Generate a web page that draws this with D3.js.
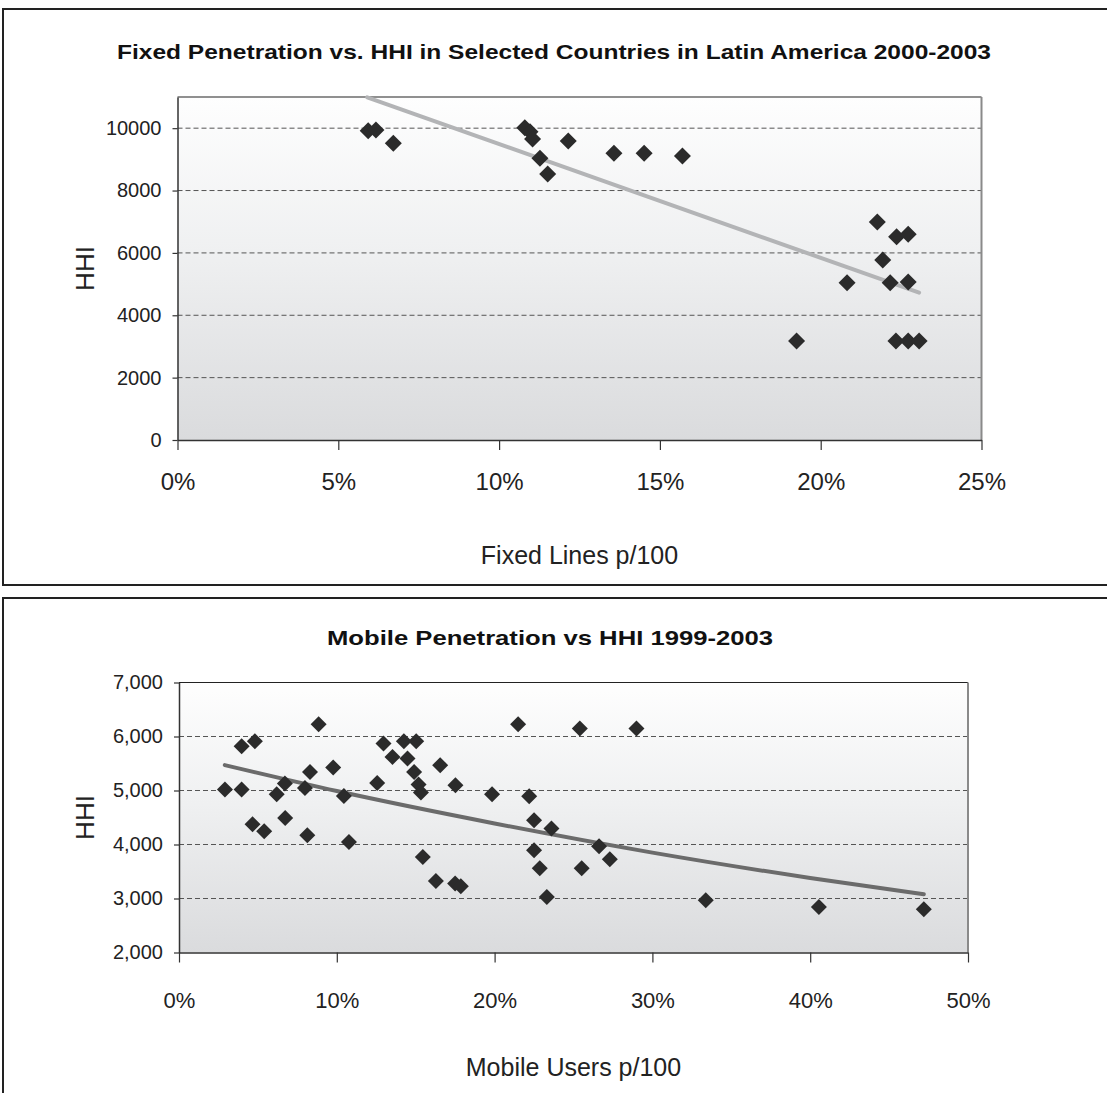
<!DOCTYPE html>
<html>
<head>
<meta charset="utf-8">
<script src="https://cdn.jsdelivr.net/npm/d3@7"></script>
<style>
  body { margin: 0; background: #fff; }
  svg { display: block; }
</style>
</head>
<body>
<div id="container"></div>
<script>
// Fixed lines chart (x in % per 100 inhabitants, y = HHI)
const fixedLines = [5.93, 6.17, 6.71, 10.8, 10.96, 11.04, 11.27, 11.51, 12.15, 13.57, 14.51, 15.7,
  21.76, 22.36, 22.72, 21.93, 20.82, 22.16, 22.72, 19.25, 22.34, 22.72, 23.06];
const fixedHHI = [9920, 9942, 9515, 10016, 9888, 9653, 9034, 8531, 9589, 9195, 9195, 9108,
  6992, 6520, 6597, 5773, 5045, 5045, 5067, 3175, 3175, 3175, 3175];
const fixedTrendX = [5.9, 23.06];
const fixedTrendY = [10990, 4724];
const fixedXTicks = [0, 5, 10, 15, 20, 25];
const fixedYTicks = [0, 2000, 4000, 6000, 8000, 10000];

// Mobile users chart
const mobileUsers = [2.91, 3.97, 4.81, 3.97, 4.66, 5.4, 6.19, 6.71, 6.73, 7.98, 8.3, 8.13, 8.85, 9.77,
  10.45, 10.77, 12.56, 12.96, 13.53, 14.25, 15.03, 14.48, 14.9, 15.18, 15.33, 15.45, 16.28, 16.55,
  17.52, 17.5, 17.86, 19.84, 21.49, 22.19, 22.5, 22.5, 22.86, 23.31, 23.6, 25.4, 25.52, 26.62, 27.3,
  28.99, 33.38, 40.55, 47.2];
const mobileHHI = [5019, 5820, 5913, 5019, 4376, 4246, 4931, 5130, 4493, 5048, 5344, 4172, 6228, 5426,
  4900, 4048, 5141, 5870, 5622, 5913, 5913, 5593, 5344, 5111, 4963, 3770, 3326, 5469,
  5098, 3278, 3228, 4931, 6228, 4894, 4450, 3894, 3561, 3030, 4296, 6148, 3561, 3969, 3728,
  6148, 2969, 2844, 2802];
const mobileTrendX = [2.9, 10, 20, 30, 40, 47.2];
const mobileTrendY = [5470, 4990, 4390, 3850, 3380, 3080];
const mobileXTicks = [0, 10, 20, 30, 40, 50];
const mobileYTicks = [2000, 3000, 4000, 5000, 6000, 7000];

const width = 1107;
const height = 1093;

const svg = d3.select("#container").append("svg")
    .attr("width", width)
    .attr("height", height);

const defs = svg.append("defs");
const grad = defs.append("linearGradient")
    .attr("id", "plotBg")
    .attr("x1", 0).attr("y1", 0).attr("x2", 0).attr("y2", 1);
grad.append("stop").attr("offset", "0%").attr("stop-color", "#fefefe");
grad.append("stop").attr("offset", "45%").attr("stop-color", "#eff0f1");
grad.append("stop").attr("offset", "100%").attr("stop-color", "#dadbdd");

// outer frames
svg.append("rect")
    .attr("x", 3).attr("y", 9)
    .attr("width", 1120).attr("height", 576)
    .attr("fill", "none").attr("stroke", "#222").attr("stroke-width", 2);
svg.append("rect")
    .attr("x", 3).attr("y", 598)
    .attr("width", 1120).attr("height", 600)
    .attr("fill", "none").attr("stroke", "#222").attr("stroke-width", 2);

function drawChart(cfg) {
    const x = d3.scaleLinear().domain(cfg.xDomain).range([cfg.left, cfg.right]);
    const y = d3.scaleLinear().domain(cfg.yDomain).range([cfg.bottom, cfg.top]);
    const g = svg.append("g");

    // plot background
    g.append("rect")
        .attr("x", cfg.left).attr("y", cfg.top)
        .attr("width", cfg.right - cfg.left).attr("height", cfg.bottom - cfg.top)
        .attr("fill", "url(#plotBg)");

    // dashed gridlines
    g.append("g")
        .selectAll("line")
        .data(cfg.grid)
        .join("line")
        .attr("x1", cfg.left).attr("x2", cfg.right)
        .attr("y1", d => y(d)).attr("y2", d => y(d))
        .attr("stroke", "#555")
        .attr("stroke-width", 1)
        .attr("stroke-dasharray", "5,3");

    // top and right borders
    g.append("line")
        .attr("x1", cfg.left).attr("x2", cfg.right)
        .attr("y1", cfg.top).attr("y2", cfg.top)
        .attr("stroke", "#222").attr("stroke-width", 1.2);
    g.append("line")
        .attr("x1", cfg.right).attr("x2", cfg.right)
        .attr("y1", cfg.top).attr("y2", cfg.bottom)
        .attr("stroke", "#8a8a8a").attr("stroke-width", 2);

    // trend line
    const trend = cfg.trendX.map((d, i) => [d, cfg.trendY[i]]);
    g.append("path")
        .datum(trend)
        .attr("fill", "none")
        .attr("stroke", cfg.trendColor)
        .attr("stroke-width", 4)
        .attr("stroke-linecap", "round")
        .attr("d", d3.line().x(d => x(d[0])).y(d => y(d[1])).curve(d3.curveMonotoneX));

    // diamond markers
    const pts = cfg.xs.map((d, i) => [d, cfg.ys[i]]);
    const s = cfg.marker;
    g.append("g")
        .selectAll("path")
        .data(pts)
        .join("path")
        .attr("transform", d => `translate(${x(d[0])},${y(d[1])})`)
        .attr("d", `M0,${-s}L${s},0L0,${s}L${-s},0Z`)
        .attr("fill", "#2b2b2b");

    // y axis
    const yAxis = g.append("g")
        .attr("transform", `translate(${cfg.left},0)`)
        .call(d3.axisLeft(y).tickValues(cfg.yTicks).tickSize(5).tickSizeOuter(0)
            .tickFormat(cfg.yFormat).tickPadding(11));
    yAxis.select(".domain").attr("stroke", "#333").attr("stroke-width", 1.5);
    yAxis.selectAll(".tick line").attr("stroke", "#333").attr("stroke-width", 1.2);
    yAxis.selectAll("text")
        .attr("font-family", "'Liberation Sans', Arial, sans-serif")
        .attr("font-size", 20)
        .attr("fill", "#222");

    // x axis
    const xAxis = g.append("g")
        .attr("transform", `translate(0,${cfg.bottom})`)
        .call(d3.axisBottom(x).tickValues(cfg.xTicks).tickSize(10).tickSizeOuter(0)
            .tickFormat(d => d + "%"));
    xAxis.select(".domain").attr("stroke", "#333").attr("stroke-width", 1.5);
    xAxis.selectAll(".tick line").attr("stroke", "#333").attr("stroke-width", 1.2);
    xAxis.selectAll("text")
        .attr("y", cfg.xLabelOffset)
        .attr("dy", "0.35em")
        .attr("font-family", "'Liberation Sans', Arial, sans-serif")
        .attr("font-size", cfg.xLabelSize)
        .attr("fill", "#222");

    // chart title
    svg.append("text")
        .attr("x", cfg.titleX).attr("y", cfg.titleY)
        .attr("text-anchor", "middle")
        .attr("font-family", "'Liberation Sans', Arial, sans-serif")
        .attr("font-weight", "bold")
        .attr("font-size", 20.5)
        .attr("textLength", cfg.titleLength)
        .attr("lengthAdjust", "spacingAndGlyphs")
        .attr("fill", "#111")
        .text(cfg.title);

    // axis titles
    svg.append("text")
        .attr("transform", `translate(${cfg.yTitleX},${(cfg.top + cfg.bottom) / 2}) rotate(-90)`)
        .attr("text-anchor", "middle")
        .attr("dy", "0.35em")
        .attr("font-family", "'Liberation Sans', Arial, sans-serif")
        .attr("font-size", 26)
        .attr("fill", "#222")
        .text("HHI");

    svg.append("text")
        .attr("x", (cfg.left + cfg.right) / 2)
        .attr("y", cfg.xTitleY)
        .attr("dy", "0.35em")
        .attr("text-anchor", "middle")
        .attr("font-family", "'Liberation Sans', Arial, sans-serif")
        .attr("font-size", 25)
        .attr("fill", "#222")
        .text(cfg.xTitle);
}

drawChart({
    xs: fixedLines, ys: fixedHHI,
    trendX: fixedTrendX, trendY: fixedTrendY, trendColor: "#b3b4b6",
    xDomain: [0, 25], yDomain: [0, 11000],
    xTicks: fixedXTicks, yTicks: fixedYTicks, grid: [2000, 4000, 6000, 8000, 10000],
    yFormat: d3.format("d"),
    left: 177.5, right: 981.5, top: 97, bottom: 440,
    marker: 8.5,
    xLabelOffset: 42, xLabelSize: 24,
    title: "Fixed Penetration vs. HHI in Selected Countries in Latin America 2000-2003",
    titleX: 554, titleY: 59, titleLength: 874,
    yTitleX: 85, xTitle: "Fixed Lines p/100", xTitleY: 555
});

drawChart({
    xs: mobileUsers, ys: mobileHHI,
    trendX: mobileTrendX, trendY: mobileTrendY, trendColor: "#6b6b6b",
    xDomain: [0, 50], yDomain: [2000, 7000],
    xTicks: mobileXTicks, yTicks: mobileYTicks, grid: [3000, 4000, 5000, 6000],
    yFormat: d3.format(","),
    left: 179, right: 968, top: 682.5, bottom: 952.5,
    marker: 8,
    xLabelOffset: 48, xLabelSize: 22,
    title: "Mobile Penetration vs HHI 1999-2003",
    titleX: 550, titleY: 645, titleLength: 446,
    yTitleX: 85, xTitle: "Mobile Users p/100", xTitleY: 1067
});
</script>
</body>
</html>
